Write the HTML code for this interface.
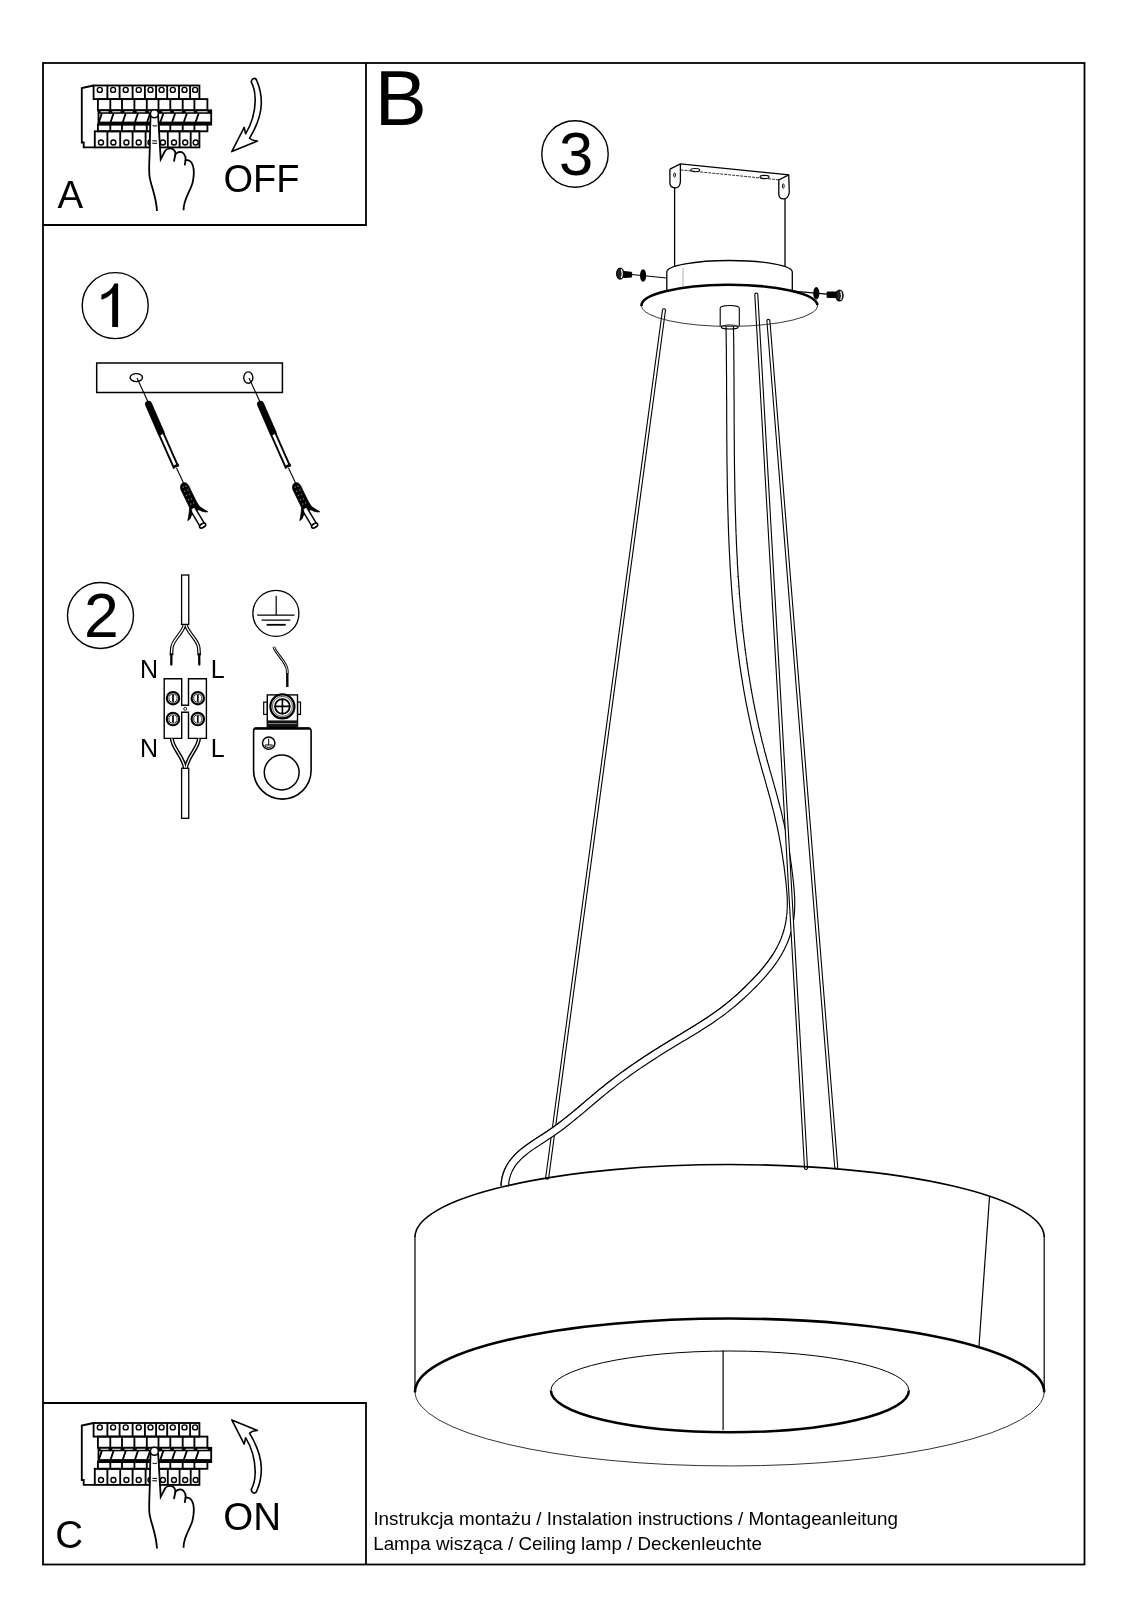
<!DOCTYPE html>
<html><head><meta charset="utf-8">
<style>
html,body{margin:0;padding:0;background:#fff;width:1131px;height:1600px;overflow:hidden}
svg{position:absolute;left:0;top:0;display:block;transform:translateZ(0)}
text{font-family:"Liberation Sans",sans-serif;fill:#000}
</style></head><body>
<svg width="1131" height="1600" viewBox="0 0 1131 1600">
<defs>
</defs>
<!-- FRAME -->
<g fill="none" stroke="#000" stroke-width="1.8">
<rect x="43" y="63" width="1041.5" height="1501.5"/>
<polyline points="366,63 366,225 43,225"/>
<polyline points="43,1403 366,1403 366,1564.5"/>
</g>
<!-- TEXT -->
<text x="374.8" y="125" font-size="78">B</text>
<text x="57.6" y="207.7" font-size="38.5">A</text>
<text x="223.5" y="191.7" font-size="38">OFF</text>
<text x="55.2" y="1548" font-size="38.5">C</text>
<text x="223.3" y="1530.3" font-size="38.5">ON</text>
<text x="373.4" y="1525.2" font-size="18.81">Instrukcja montażu / Instalation instructions / Montageanleitung</text>
<text x="373.2" y="1550.3" font-size="18.81">Lampa wisząca / Ceiling lamp / Deckenleuchte</text>

<!-- LAMP -->
<g id="lamp" fill="none" stroke="#000">
<!-- cables: double lines -->
<g stroke-linecap="round">
<path d="M663.95,310.3 L547.2,1177.7" stroke="#000" stroke-width="4.1"/>
<path d="M663.95,310.3 L547.2,1177.7" stroke="#fff" stroke-width="1.9"/>
</g>
<path d="M729.7,326.1 L729.8,329.4 L729.8,332.8 L729.9,336.1 L729.9,339.4 L730.0,342.7 L730.0,346.0 L730.1,349.4 L730.1,352.7 L730.1,356.0 L730.1,359.4 L730.2,362.7 L730.2,366.0 L730.2,369.4 L730.2,372.7 L730.3,376.0 L730.3,379.4 L730.3,382.7 L730.3,386.1 L730.3,389.4 L730.3,392.7 L730.3,396.1 L730.4,399.4 L730.4,402.8 L730.4,406.1 L730.4,409.5 L730.4,412.8 L730.4,416.2 L730.4,419.5 L730.4,422.9 L730.5,426.2 L730.5,429.6 L730.5,432.9 L730.5,436.3 L730.5,439.6 L730.6,443.0 L730.6,446.3 L730.6,449.7 L730.6,453.0 L730.7,456.4 L730.7,459.7 L730.7,463.1 L730.8,466.5 L730.8,469.8 L730.9,473.2 L730.9,476.5 L731.0,479.9 L731.0,483.2 L731.1,486.6 L731.1,489.9 L731.2,493.3 L731.3,496.6 L731.3,500.0 L731.4,503.4 L731.5,506.7 L731.6,510.1 L731.7,513.4 L731.8,516.8 L731.9,520.1 L732.0,523.5 L732.1,526.8 L732.2,530.2 L732.3,533.5 L732.5,536.9 L732.6,540.2 L732.7,543.6 L732.9,546.9 L733.0,550.3 L733.2,553.6 L733.4,557.0 L733.6,560.3 L733.7,563.7 L733.9,567.0 L734.1,570.3 L734.3,573.7 L734.5,577.0 L734.8,580.4 L735.0,583.7 L735.2,587.0 L735.5,590.4 L735.7,593.7 L736.0,597.1 L736.3,600.4 L736.6,603.7 L736.8,607.0 L737.1,610.4 L737.5,613.7 L737.8,617.0 L738.1,620.4 L738.4,623.7 L738.8,627.0 L739.1,630.3 L739.5,633.6 L739.9,637.0 L740.3,640.3 L740.7,643.6 L741.1,646.9 L741.5,650.2 L742.0,653.5 L742.4,656.8 L742.9,660.1 L743.3,663.4 L743.8,666.7 L744.3,670.0 L744.8,673.3 L745.3,676.6 L745.9,679.9 L746.4,683.2 L747.0,686.5 L747.5,689.8 L748.1,693.1 L748.7,696.4 L749.3,699.6 L749.9,702.9 L750.6,706.2 L751.2,709.5 L751.9,712.7 L752.6,716.0 L753.3,719.3 L754.0,722.5 L754.7,725.8 L755.4,729.1 L756.2,732.3 L757.0,735.6 L757.7,738.8 L758.5,742.1 L759.4,745.3 L760.2,748.6 L761.0,751.8 L761.9,755.0 L762.8,758.3 L763.6,761.5 L764.5,764.7 L765.4,768.0 L766.3,771.2 L767.3,774.4 L768.2,777.6 L769.1,780.9 L770.0,784.1 L770.9,787.3 L771.8,790.5 L772.7,793.8 L773.6,797.0 L774.4,800.2 L775.3,803.5 L776.1,806.7 L777.0,809.9 L777.8,813.2 L778.6,816.4 L779.3,819.7 L780.1,822.9 L780.8,826.2 L781.5,829.5 L782.2,832.7 L782.8,836.0 L783.4,839.3 L784.0,842.5 L784.6,845.8 L785.2,849.1 L785.7,852.4 L786.2,855.7 L786.7,859.0 L787.2,862.3 L787.7,865.6 L788.1,868.9 L788.5,872.2 L788.9,875.6 L789.3,878.9 L789.7,882.2 L790.0,885.6 L790.3,888.9 L790.6,892.2 L790.8,895.6 L791.0,898.9 L791.0,902.3 L791.0,905.6 L790.9,909.0 L790.7,912.3 L790.4,915.7 L790.0,919.0 L789.5,922.3 L788.8,925.6 L788.1,928.9 L787.2,932.1 L786.2,935.3 L785.1,938.4 L783.9,941.5 L782.5,944.5 L781.1,947.5 L779.5,950.4 L777.9,953.3 L776.2,956.1 L774.4,958.9 L772.5,961.7 L770.5,964.4 L768.5,967.0 L766.4,969.6 L764.2,972.2 L762.0,974.8 L759.7,977.3 L757.4,979.7 L755.1,982.2 L752.7,984.6 L750.3,987.0 L747.9,989.4 L745.5,991.7 L743.1,994.0 L740.6,996.3 L738.1,998.5 L735.6,1000.7 L733.1,1002.9 L730.5,1005.0 L727.9,1007.1 L725.3,1009.2 L722.7,1011.2 L720.0,1013.2 L717.3,1015.1 L714.6,1017.0 L711.9,1018.9 L709.1,1020.8 L706.3,1022.6 L703.5,1024.4 L700.7,1026.2 L697.9,1028.0 L695.1,1029.7 L692.2,1031.5 L689.3,1033.2 L686.5,1035.0 L683.6,1036.7 L680.7,1038.4 L677.9,1040.1 L675.0,1041.9 L672.1,1043.6 L669.3,1045.4 L666.4,1047.1 L663.5,1048.9 L660.7,1050.7 L657.9,1052.4 L655.0,1054.2 L652.2,1056.1 L649.4,1057.9 L646.6,1059.7 L643.8,1061.6 L641.0,1063.4 L638.2,1065.3 L635.4,1067.2 L632.7,1069.1 L629.9,1071.0 L627.2,1073.0 L624.5,1074.9 L621.8,1076.9 L619.1,1078.9 L616.4,1080.9 L613.8,1082.9 L611.1,1085.0 L608.5,1087.0 L605.9,1089.1 L603.3,1091.2 L600.7,1093.3 L598.2,1095.4 L595.6,1097.6 L593.1,1099.7 L590.5,1101.9 L588.0,1104.0 L585.5,1106.2 L582.9,1108.3 L580.4,1110.5 L577.8,1112.6 L575.2,1114.7 L572.6,1116.9 L570.0,1119.0 L567.4,1121.1 L564.8,1123.1 L562.1,1125.2 L559.4,1127.2 L556.7,1129.2 L553.9,1131.2 L551.1,1133.1 L548.3,1135.0 L545.4,1136.9 L542.6,1138.8 L539.7,1140.6 L536.8,1142.5 L534.0,1144.4 L531.2,1146.3 L528.4,1148.2 L525.8,1150.2 L523.2,1152.3 L520.7,1154.4 L518.3,1156.6 L516.1,1159.0 L514.0,1161.4 L512.1,1163.9 L510.4,1166.6 L508.9,1169.4 L507.6,1172.4 L506.5,1175.6 L505.6,1178.9 L505.1,1182.4 L504.8,1186.1" stroke="#000" stroke-width="8.6"/>
<path d="M729.7,326.1 L729.8,329.4 L729.8,332.8 L729.9,336.1 L729.9,339.4 L730.0,342.7 L730.0,346.0 L730.1,349.4 L730.1,352.7 L730.1,356.0 L730.1,359.4 L730.2,362.7 L730.2,366.0 L730.2,369.4 L730.2,372.7 L730.3,376.0 L730.3,379.4 L730.3,382.7 L730.3,386.1 L730.3,389.4 L730.3,392.7 L730.3,396.1 L730.4,399.4 L730.4,402.8 L730.4,406.1 L730.4,409.5 L730.4,412.8 L730.4,416.2 L730.4,419.5 L730.4,422.9 L730.5,426.2 L730.5,429.6 L730.5,432.9 L730.5,436.3 L730.5,439.6 L730.6,443.0 L730.6,446.3 L730.6,449.7 L730.6,453.0 L730.7,456.4 L730.7,459.7 L730.7,463.1 L730.8,466.5 L730.8,469.8 L730.9,473.2 L730.9,476.5 L731.0,479.9 L731.0,483.2 L731.1,486.6 L731.1,489.9 L731.2,493.3 L731.3,496.6 L731.3,500.0 L731.4,503.4 L731.5,506.7 L731.6,510.1 L731.7,513.4 L731.8,516.8 L731.9,520.1 L732.0,523.5 L732.1,526.8 L732.2,530.2 L732.3,533.5 L732.5,536.9 L732.6,540.2 L732.7,543.6 L732.9,546.9 L733.0,550.3 L733.2,553.6 L733.4,557.0 L733.6,560.3 L733.7,563.7 L733.9,567.0 L734.1,570.3 L734.3,573.7 L734.5,577.0 L734.8,580.4 L735.0,583.7 L735.2,587.0 L735.5,590.4 L735.7,593.7 L736.0,597.1 L736.3,600.4 L736.6,603.7 L736.8,607.0 L737.1,610.4 L737.5,613.7 L737.8,617.0 L738.1,620.4 L738.4,623.7 L738.8,627.0 L739.1,630.3 L739.5,633.6 L739.9,637.0 L740.3,640.3 L740.7,643.6 L741.1,646.9 L741.5,650.2 L742.0,653.5 L742.4,656.8 L742.9,660.1 L743.3,663.4 L743.8,666.7 L744.3,670.0 L744.8,673.3 L745.3,676.6 L745.9,679.9 L746.4,683.2 L747.0,686.5 L747.5,689.8 L748.1,693.1 L748.7,696.4 L749.3,699.6 L749.9,702.9 L750.6,706.2 L751.2,709.5 L751.9,712.7 L752.6,716.0 L753.3,719.3 L754.0,722.5 L754.7,725.8 L755.4,729.1 L756.2,732.3 L757.0,735.6 L757.7,738.8 L758.5,742.1 L759.4,745.3 L760.2,748.6 L761.0,751.8 L761.9,755.0 L762.8,758.3 L763.6,761.5 L764.5,764.7 L765.4,768.0 L766.3,771.2 L767.3,774.4 L768.2,777.6 L769.1,780.9 L770.0,784.1 L770.9,787.3 L771.8,790.5 L772.7,793.8 L773.6,797.0 L774.4,800.2 L775.3,803.5 L776.1,806.7 L777.0,809.9 L777.8,813.2 L778.6,816.4 L779.3,819.7 L780.1,822.9 L780.8,826.2 L781.5,829.5 L782.2,832.7 L782.8,836.0 L783.4,839.3 L784.0,842.5 L784.6,845.8 L785.2,849.1 L785.7,852.4 L786.2,855.7 L786.7,859.0 L787.2,862.3 L787.7,865.6 L788.1,868.9 L788.5,872.2 L788.9,875.6 L789.3,878.9 L789.7,882.2 L790.0,885.6 L790.3,888.9 L790.6,892.2 L790.8,895.6 L791.0,898.9 L791.0,902.3 L791.0,905.6 L790.9,909.0 L790.7,912.3 L790.4,915.7 L790.0,919.0 L789.5,922.3 L788.8,925.6 L788.1,928.9 L787.2,932.1 L786.2,935.3 L785.1,938.4 L783.9,941.5 L782.5,944.5 L781.1,947.5 L779.5,950.4 L777.9,953.3 L776.2,956.1 L774.4,958.9 L772.5,961.7 L770.5,964.4 L768.5,967.0 L766.4,969.6 L764.2,972.2 L762.0,974.8 L759.7,977.3 L757.4,979.7 L755.1,982.2 L752.7,984.6 L750.3,987.0 L747.9,989.4 L745.5,991.7 L743.1,994.0 L740.6,996.3 L738.1,998.5 L735.6,1000.7 L733.1,1002.9 L730.5,1005.0 L727.9,1007.1 L725.3,1009.2 L722.7,1011.2 L720.0,1013.2 L717.3,1015.1 L714.6,1017.0 L711.9,1018.9 L709.1,1020.8 L706.3,1022.6 L703.5,1024.4 L700.7,1026.2 L697.9,1028.0 L695.1,1029.7 L692.2,1031.5 L689.3,1033.2 L686.5,1035.0 L683.6,1036.7 L680.7,1038.4 L677.9,1040.1 L675.0,1041.9 L672.1,1043.6 L669.3,1045.4 L666.4,1047.1 L663.5,1048.9 L660.7,1050.7 L657.9,1052.4 L655.0,1054.2 L652.2,1056.1 L649.4,1057.9 L646.6,1059.7 L643.8,1061.6 L641.0,1063.4 L638.2,1065.3 L635.4,1067.2 L632.7,1069.1 L629.9,1071.0 L627.2,1073.0 L624.5,1074.9 L621.8,1076.9 L619.1,1078.9 L616.4,1080.9 L613.8,1082.9 L611.1,1085.0 L608.5,1087.0 L605.9,1089.1 L603.3,1091.2 L600.7,1093.3 L598.2,1095.4 L595.6,1097.6 L593.1,1099.7 L590.5,1101.9 L588.0,1104.0 L585.5,1106.2 L582.9,1108.3 L580.4,1110.5 L577.8,1112.6 L575.2,1114.7 L572.6,1116.9 L570.0,1119.0 L567.4,1121.1 L564.8,1123.1 L562.1,1125.2 L559.4,1127.2 L556.7,1129.2 L553.9,1131.2 L551.1,1133.1 L548.3,1135.0 L545.4,1136.9 L542.6,1138.8 L539.7,1140.6 L536.8,1142.5 L534.0,1144.4 L531.2,1146.3 L528.4,1148.2 L525.8,1150.2 L523.2,1152.3 L520.7,1154.4 L518.3,1156.6 L516.1,1159.0 L514.0,1161.4 L512.1,1163.9 L510.4,1166.6 L508.9,1169.4 L507.6,1172.4 L506.5,1175.6 L505.6,1178.9 L505.1,1182.4 L504.8,1186.1" stroke="#fff" stroke-width="6.3"/>
<path d="M772.8,954.0 L771.0,956.7 L769.2,959.3 L767.3,962.0 L765.3,964.5 L763.3,967.1 L761.1,969.6 L759.0,972.1 L756.8,974.6 L754.5,977.0 L752.2,979.4 L749.9,981.8 L747.5,984.2 L745.2,986.5 L742.8,988.8 L740.4,991.1 L737.9,993.3 L735.5,995.5 L733.0,997.7 L730.5,999.8 L728.0,1001.9 L725.5,1004.0 L722.9,1006.0 L720.3,1008.0 L717.7,1009.9 L715.0,1011.9 L712.3,1013.7 L709.6,1015.6 L706.9,1017.4 L704.1,1019.3 L701.4,1021.1 L698.6,1022.8 L695.8,1024.6 L693.0,1026.3 L690.1,1028.1 L687.3,1029.8 L684.4,1031.5 L681.6,1033.3 L678.7,1035.0 L675.8,1036.7 L672.9,1038.4 L670.1,1040.2 L667.2,1041.9 L664.3,1043.7 L661.4,1045.5 L658.6,1047.3 L655.7,1049.1 L652.9,1050.9 L650.0,1052.7 L647.2,1054.5 L644.4,1056.4 L641.6,1058.2 L638.7,1060.1 L636.0,1062.0 L633.2,1063.9 L630.4,1065.8 L627.6,1067.8 L624.9,1069.7 L622.1,1071.7 L619.4,1073.7 L616.7,1075.7 L614.0,1077.7 L611.3,1079.8 L608.7,1081.8 L606.0,1083.9 L603.4,1086.0 L600.8,1088.1 L598.2,1090.2 L595.6,1092.4 L593.1,1094.5 L590.5,1096.7 L588.0,1098.8 L585.4,1101.0 L582.9,1103.1 L580.3,1105.3 L577.8,1107.4 L575.2,1109.5 L572.7,1111.7 L570.1,1113.8 L567.5,1115.8 L564.9,1117.9 L562.3,1120.0 L559.7,1122.0 L557.0,1124.0 L554.3,1126.0 L551.6,1127.9 L548.9,1129.8 L546.1,1131.7 L543.2,1133.6 L540.4,1135.4 L537.5,1137.3 L534.6,1139.2 L531.7,1141.1 L528.9,1143.0 L526.1,1145.0 L523.3,1147.1 L520.6,1149.2 L518.0,1151.4 L515.5,1153.8 L513.2,1156.3 L510.9,1158.9 L508.9,1161.6 L507.0,1164.6 L505.3,1167.7 L503.8,1170.9 L502.6,1174.4 L501.7,1178.1 L501.1,1181.9 L500.8,1185.9" stroke="#000" stroke-width="0.9" stroke-linejoin="round"/>
<g stroke-linecap="round">
<path d="M756.3,294.6 L806,1167.9 M768.4,320.9 L836.2,1166.9" stroke="#000" stroke-width="4.1"/>
<path d="M756.3,294.6 L806,1167.9 M768.4,320.9 L836.2,1166.9" stroke="#fff" stroke-width="1.9"/>
</g>
<!-- ring -->
<path d="M415,1237 A314.6,72.5 0 0 1 1044.2,1237" stroke-width="1.6"/>
<path d="M415,1236 L415,1393 M1044.2,1236 L1044.2,1393" stroke-width="1.2"/>
<path d="M415,1392 A314.6,73.5 0 0 1 1044.2,1392" stroke-width="2.6"/>
<path d="M415,1391.5 A314.6,74.5 0 0 0 1044.2,1391.5" stroke-width="1" stroke="#333"/>
<path d="M989.5,1196.7 L979,1346" stroke-width="1.2"/>
<path d="M550.9,1390.5 A179,39.5 0 0 1 908.9,1390.5" stroke-width="1"/>
<path d="M550.9,1390.5 A179,41.8 0 0 0 908.9,1390.5" stroke-width="2.5"/>
<path d="M723.1,1350.4 L723.1,1430" stroke-width="1.2"/>
<!-- canopy plate -->
<path d="M641.5,306.2 A88,20.8 0 0 1 817.5,305" stroke-width="2.6"/>
<path d="M641.5,306.2 A88,20.8 0 0 0 817.5,305" stroke-width="0.9" stroke="#222"/>
<!-- cylinder -->
<path d="M666.8,290 L666.8,272 A62.75,11.5 0 0 1 792.3,272 L792.3,290" stroke-width="1.3"/>
<path d="M683,268 L683,287" stroke-width="0.6" stroke="#777"/>
<!-- bracket -->
<path d="M674.6,187 L674.6,266.8 M785,199 L785,266.8" stroke-width="1.3"/>
<path d="M669.9,169.2 L680.4,163.9 L788.7,174.8 L789.3,192 C789,197 786,199 783.8,198.9 C780,199 778.8,197 778.8,194 L778.8,179.8 L788.7,174.8" stroke-width="1.3"/>
<path d="M680.4,163.9 L680.4,181 C680.4,186 678,188 675,187.8 C671,187.6 669.9,185 669.9,183 L669.9,169.2" stroke-width="1.3"/>
<path d="M680.4,169.9 L778.8,179.8" stroke-width="0.8" stroke-dasharray="3,1"/>
<ellipse cx="695.3" cy="170.1" rx="4.5" ry="1.6" stroke-width="1.1"/>
<ellipse cx="764.6" cy="177" rx="4.5" ry="1.6" stroke-width="1.1"/>
<ellipse cx="674.6" cy="175" rx="0.9" ry="2.2" stroke-width="0.9"/>
<ellipse cx="783.3" cy="186" rx="0.9" ry="2.2" stroke-width="0.9"/>
<!-- cord holder -->
<path d="M720.2,326 L720.2,308 A9.55,2.5 0 0 1 739.3,308 L739.3,326" stroke-width="1.1"/>
<ellipse cx="729.7" cy="327" rx="8.5" ry="2" stroke-width="1.2"/>
<!-- screws -->
<path d="M631.6,274.5 L666.9,278" stroke-width="1.2"/>
<ellipse cx="643.1" cy="275.5" rx="3.1" ry="6.2" fill="#000" stroke="none"/>
<path d="M623.6,271.5 L631.6,272.3 L631.6,277 L623.6,277.6 Z" fill="#000" stroke="#000" stroke-width="1"/>
<ellipse cx="620.2" cy="273.6" rx="3.6" ry="5.5" fill="#222" stroke="#000" stroke-width="1.2"/><path d="M621.3,269.3 Q623.2,273.6 621.3,278" stroke="#fff" stroke-width="1.1"/>
<path d="M790,290.8 L827.1,294.2" stroke-width="1.2"/>
<ellipse cx="816.3" cy="293.3" rx="3.1" ry="6.2" fill="#000" stroke="none"/>
<path d="M827.1,292 L837,292 L837,297.6 L827.1,297.4 Z" fill="#000" stroke="#000" stroke-width="1"/>
<ellipse cx="839.5" cy="295.5" rx="3.6" ry="5.5" fill="#222" stroke="#000" stroke-width="1.2"/><path d="M840.6,291.2 Q842.5,295.5 840.6,299.9" stroke="#fff" stroke-width="1.1"/>
</g>
<!-- LEFT COLUMN -->
<g id="left" fill="none" stroke="#000">
<g id="brk" fill="none" stroke="#000" stroke-width="1.85">
<path d="M93.6,85.5 L81.8,88 L81.8,142.5 L83.7,142.5 L83.7,147.4 L94.8,147.4"/>
<rect x="93.6" y="85.5" width="105.8" height="13.6"/>
<path d="M107.4,85.5 V99.1 M119.6,85.5 V99.1 M132.6,85.5 V99.1 M144.9,85.5 V99.1 M156.1,85.5 V99.1 M167.2,85.5 V99.1 M179.0,85.5 V99.1 M190.1,85.5 V99.1"/>
<circle cx="99.8" cy="89.9" r="2.5" stroke-width="1.4"/>
<circle cx="113.1" cy="89.9" r="2.5" stroke-width="1.4"/>
<circle cx="125.7" cy="89.9" r="2.5" stroke-width="1.4"/>
<circle cx="138.7" cy="89.9" r="2.5" stroke-width="1.4"/>
<circle cx="150.5" cy="89.9" r="2.5" stroke-width="1.4"/>
<circle cx="161.6" cy="89.9" r="2.5" stroke-width="1.4"/>
<circle cx="172.8" cy="89.9" r="2.5" stroke-width="1.4"/>
<circle cx="184.5" cy="89.9" r="2.5" stroke-width="1.4"/>
<circle cx="195.1" cy="89.9" r="2.5" stroke-width="1.4"/>
<rect x="97.9" y="99.1" width="109.5" height="11.2"/>
<path d="M110.3,99.1 V110.3 M122.0,99.1 V110.3 M134.4,99.1 V110.3 M146.8,99.1 V110.3 M158.5,99.1 V110.3 M170.3,99.1 V110.3 M182.7,99.1 V110.3 M194.4,99.1 V110.3"/>
<rect x="98.5" y="110.3" width="112.7" height="14.3"/>
<rect x="98.5" y="110.3" width="112.7" height="3.5" fill="#000" stroke="none"/>
<path d="M100.6,111.8 H108.6 M112.3,111.8 H120.6 M124.5,111.8 H132.8 M136.7,111.8 H145.2 M148.9,111.8 H158.2 M162.1,111.8 H170.2 M173.9,111.8 H181.9 M185.6,111.8 H193.7 M197.4,111.8 H207.5" stroke="#fff" stroke-width="1.1"/>
<rect x="98.5" y="121.6" width="112.7" height="3" fill="#000" stroke="none"/>
<path d="M98.9,122 L101.8,113.5 M110.6,122 L113.5,113.5 M122.8,122 L125.7,113.5 M135.0,122 L137.9,113.5 M147.2,122 L150.1,113.5 M160.4,122 L163.3,113.5 M172.2,122 L175.1,113.5 M183.9,122 L186.8,113.5 M195.7,122 L198.6,113.5" stroke-width="1.9"/>
<rect x="97.9" y="124.3" width="109.5" height="7"/>
<path d="M110.3,124.3 V131.3 M122.0,124.3 V131.3 M134.4,124.3 V131.3 M146.8,124.3 V131.3 M158.5,124.3 V131.3 M170.3,124.3 V131.3 M182.7,124.3 V131.3 M194.4,124.3 V131.3"/>
<rect x="94.8" y="131.3" width="104.6" height="16.1"/>
<path d="M107.4,131.3 V147.4 M120.2,131.3 V147.4 M132.6,131.3 V147.4 M145.6,131.3 V147.4 M156.7,131.3 V147.4 M167.8,131.3 V147.4 M179.6,131.3 V147.4 M190.7,131.3 V147.4"/>
<circle cx="101" cy="142.5" r="2.5" stroke-width="1.4"/>
<circle cx="113.4" cy="142.5" r="2.5" stroke-width="1.4"/>
<circle cx="126.4" cy="142.5" r="2.5" stroke-width="1.4"/>
<circle cx="138.7" cy="142.5" r="2.5" stroke-width="1.4"/>
<circle cx="150.5" cy="142.5" r="2.5" stroke-width="1.4"/>
<circle cx="162.9" cy="142.5" r="2.5" stroke-width="1.4"/>
<circle cx="174" cy="142.5" r="2.5" stroke-width="1.4"/>
<circle cx="185.2" cy="142.5" r="2.5" stroke-width="1.4"/>
<circle cx="195.7" cy="142.5" r="2.5" stroke-width="1.4"/>
<path d="M150.6,115 C150,130 149.9,140 149.9,145 C149.5,160 148.6,170 149.5,176 C150.5,185 156,195 157,211 L183.6,210.3 C183,200 190,192 192.5,183 C195,172 194,163 189,160.5 C187,159.8 186,160 185.6,160 C186,155 183,151.5 179.5,152 C177.5,152.2 176,153.5 175.5,154 C175.5,150 172,148 169,148.5 C167,149 165.5,150 165,151 L160.7,159.3 L158.1,115 Z" fill="#fff" stroke="none"/>
<path d="M150.6,115 C150,130 149.9,140 149.9,145 C149.5,160 148.6,170 149.5,176 C150.5,185 156,195 157,211 M183.6,210.3 C183,200 190,192 192.5,183 C195,172 194,163 189,160.5 C187,159.8 186,160 185.6,160 C186,155 183,151.5 179.5,152 C177.5,152.2 176,153.5 175.5,154 C175.5,150 172,148 169,148.5 C167,149 165.5,150 165,151 L160.7,159.3 L158.1,115" stroke-width="1.8"/>
<path d="M175.5,154 L173.9,161.5 M185.6,160 L184.7,165.3" stroke-width="1.8"/>
<circle cx="154.4" cy="113.8" r="4" fill="#fff" stroke-width="1.6"/>
<path d="M152.5,125.6 Q154.7,126.6 157,125.6 M152.3,140.8 L157,141 M152.3,143.2 L157,143.4" stroke-width="1"/>
</g>
<path id="arw" d="M251.2,81.8 C252,77.5 256,77.5 256.8,80.7 C260,88 261.5,97 261.3,103.7 C261,115 257,126 249.5,138.3 C251,139.8 254,140.8 257.4,141.1 L231.8,151.6 L244.2,127.4 L245.6,133.8 C251,125 255,113 255.2,100 C255.3,92 254,87 251.2,81.8 Z" fill="#fff" stroke="#000" stroke-width="1.6" stroke-linejoin="round"/>
<use href="#brk" transform="translate(0,1337.5)"/>
<use href="#arw" transform="translate(0,1571.5) scale(1,-1)"/>

<!-- section 1 -->
<rect x="96.7" y="363" width="185.7" height="29.5" stroke-width="1.5"/>
<ellipse cx="136.3" cy="377.6" rx="6.2" ry="4.0" stroke-width="1.4"/>
<ellipse cx="248.3" cy="377.6" rx="4.6" ry="5.7" stroke-width="1.4"/>
<g id="dowel">
<path d="M137,378 L148.3,402.5" stroke-width="1.1"/>
<path d="M148.6,404.3 L161.3,433.5" stroke="#000" stroke-width="7" stroke-linecap="round"/>
<path d="M161.6,434.6 L176.2,467.6" stroke="#000" stroke-width="6.4"/>
<path d="M161.6,434.6 L176.2,467.6" stroke="#fff" stroke-width="2.6"/>
<path d="M173.3,467 L178.8,464.6" stroke-width="2.6"/>
<path d="M176.5,468 L183.3,482.6" stroke-width="1.1"/>
<path d="M183.3,482.6 C180.5,484 180,487 181,490 L187.7,503.6 L189.5,507.6 C189.5,512 188.6,517 187.8,520.5 C190,520 191.5,516 192,512 L193,510 L195,511 L198.7,509.8 C201.5,511 204.5,512.5 207.8,511.8 C205,510 202,508.5 199.5,506.5 L196.5,501.8 L192.1,493 L188.6,485.5 C187.5,483.5 185.5,482.5 183.3,482.6 Z" fill="#000" stroke="#000" stroke-width="0.8"/>
<g fill="#888" stroke="none">
<circle cx="183.2" cy="487" r="0.7"/><circle cx="186" cy="486.3" r="0.7"/><circle cx="184.8" cy="491.2" r="0.7"/><circle cx="188" cy="490" r="0.7"/><circle cx="186.5" cy="495.5" r="0.7"/><circle cx="189.3" cy="494.5" r="0.7"/><circle cx="188.6" cy="499.8" r="0.7"/><circle cx="191.5" cy="498.8" r="0.7"/><circle cx="190.7" cy="504" r="0.7"/><circle cx="193.8" cy="503" r="0.7"/>
</g>
<path d="M192.5,508.8 L202.6,525.6" stroke="#000" stroke-width="6.8"/>
<path d="M192.5,508.8 L202.6,525.6" stroke="#fff" stroke-width="3.8"/>
<ellipse cx="202.6" cy="525.6" rx="3.4" ry="1.9" transform="rotate(-31 202.6 525.6)" fill="#fff" stroke-width="1.6"/>
<path d="M191.3,510.5 L189.5,518" stroke-width="2" stroke-linecap="round"/>
</g>
<use href="#dowel" transform="translate(112,0)"/>

<!-- section 2 -->
<rect x="181.6" y="575" width="7.15" height="49.4" stroke-width="1.3"/>
<g stroke-linecap="butt">
<path d="M184.3,625.2 C183,633 172.3,640 171.8,648 L171.5,654.6 M186.1,625.2 C187.6,633 198.3,640 198.8,648 L199.2,654.6" stroke="#000" stroke-width="3.6"/>
<path d="M184.3,625.2 C183,633 172.3,640 171.8,648 L171.5,654.6 M186.1,625.2 C187.6,633 198.3,640 198.8,648 L199.2,654.6" stroke="#fff" stroke-width="1.3"/>
</g>
<path d="M171.4,654.5 L171.3,664.6 M199.2,654.5 L199.3,664.6" stroke="#000" stroke-width="2.3" stroke-linecap="round"/>
<path d="M169.6,654.5 H173.2 M197.4,654.5 H201" stroke-width="1.3"/>
<text x="140.1" y="678.3" font-size="25" stroke="none">N</text>
<text x="210.8" y="678.3" font-size="25" stroke="none">L</text>
<text x="140.1" y="756.5" font-size="25" stroke="none">N</text>
<text x="210.8" y="756.5" font-size="25" stroke="none">L</text>
<path d="M164.2,678.7 H181.7 V705.3 H188.5 V678.7 H206.4 V738.4 H188.5 V712.3 H181.7 V738.4 H164.2 Z" stroke-width="1.4"/>
<g id="scr">
<circle cx="173" cy="698.2" r="6.2" stroke-width="2.1"/>
<circle cx="173" cy="698.2" r="4.1" stroke-width="0.8"/>
<path d="M173,694.6 V701.8" stroke-width="1.7"/>
</g>
<use href="#scr" transform="translate(24.8,0)"/>
<use href="#scr" transform="translate(0,20.8)"/>
<use href="#scr" transform="translate(24.8,20.8)"/>
<circle cx="185.2" cy="708.8" r="1.5" stroke-width="0.9"/>
<g>
<path d="M171.9,738.6 C171.9,748 183.6,756 184.9,768.4 M198.9,738.6 C198.9,748 187.3,756 186,768.4" stroke="#000" stroke-width="4.1"/>
<path d="M171.9,738.6 C171.9,748 183.6,756 184.9,768.4 M198.9,738.6 C198.9,748 187.3,756 186,768.4" stroke="#fff" stroke-width="1.3"/>
</g>
<rect x="181.6" y="768.3" width="7.15" height="50" stroke-width="1.3"/>
<!-- ground -->
<circle cx="275.9" cy="613.4" r="23" stroke-width="1.3"/>
<path d="M276.2,595.8 V615.2 M257.2,615.2 H294.6 M261.6,620.2 H290.3" stroke-width="1.2"/>
<path d="M266.6,624.8 H285.7" stroke-width="1.8"/>
<path d="M273.8,646.8 C276,654 286.5,662 287.2,670 L287.3,673.5" stroke="#000" stroke-width="2.8"/>
<path d="M273.8,646.8 C276,654 286.5,662 287.2,670 L287.3,673.5" stroke="#fff" stroke-width="0.9"/>
<path d="M287.3,673 L287.3,687" stroke="#000" stroke-width="2.4"/>
<rect x="263.7" y="702.1" width="3.6" height="12.3" stroke-width="1.2"/>
<rect x="297.5" y="702.1" width="3" height="12.3" stroke-width="1.2"/>
<rect x="267.3" y="694.9" width="30.2" height="32.4" fill="#fff" stroke-width="1.4"/>
<rect x="267.3" y="720.4" width="30.2" height="6.9" fill="#111" stroke="none"/>
<path d="M268,723.6 H296.8" stroke="#888" stroke-width="1"/>
<circle cx="282.4" cy="706.4" r="12" fill="#fff" stroke-width="2.2"/>
<circle cx="282.4" cy="706.4" r="10" stroke-width="0.7"/>
<circle cx="282.4" cy="706.4" r="7.3" stroke-width="1.8"/>
<path d="M282.4,698.4 V714.4 M274.4,706.4 H290.4" stroke-width="1.6"/>
<path d="M256.6,728 H308.1 Q311.1,728 311.1,731 V770.35 A28.75,28.75 0 0 1 253.6,770.35 V731 Q253.6,728 256.6,728 Z" fill="#fff" stroke-width="1.6"/>
<path d="M254.5,728.6 H310.2" stroke-width="2.4"/>
<circle cx="281.7" cy="772.5" r="17.4" stroke-width="1.5"/>
<circle cx="268.7" cy="743.1" r="6.2" stroke-width="1.5"/>
<path d="M268.7,738.6 V745 M265,745 H272.4" stroke-width="1"/>
<path d="M264.5,745.5 A4.5,3 0 0 0 272.9,745.5" stroke-width="1"/>
<!-- circled numbers -->
<circle cx="115.2" cy="305.6" r="33" stroke-width="1.4"/>
<path d="M112.2,326.9 L118.1,326.9 L118.1,283.5 L114.3,283.5 C112.5,288.5 108,292.5 101.4,294.8 L101.4,299.8 C106,298.3 110,296 112.2,293 Z" fill="#000" stroke="none"/>
<circle cx="100.5" cy="615.5" r="33" stroke-width="1.4"/>
<text x="84.1" y="636.9" font-size="62.5" stroke="none">2</text>
<circle cx="575" cy="154" r="33.2" stroke-width="1.4"/>
<text x="558.9" y="175.4" font-size="61.5" stroke="none">3</text>
</g>
</svg>
</body></html>
